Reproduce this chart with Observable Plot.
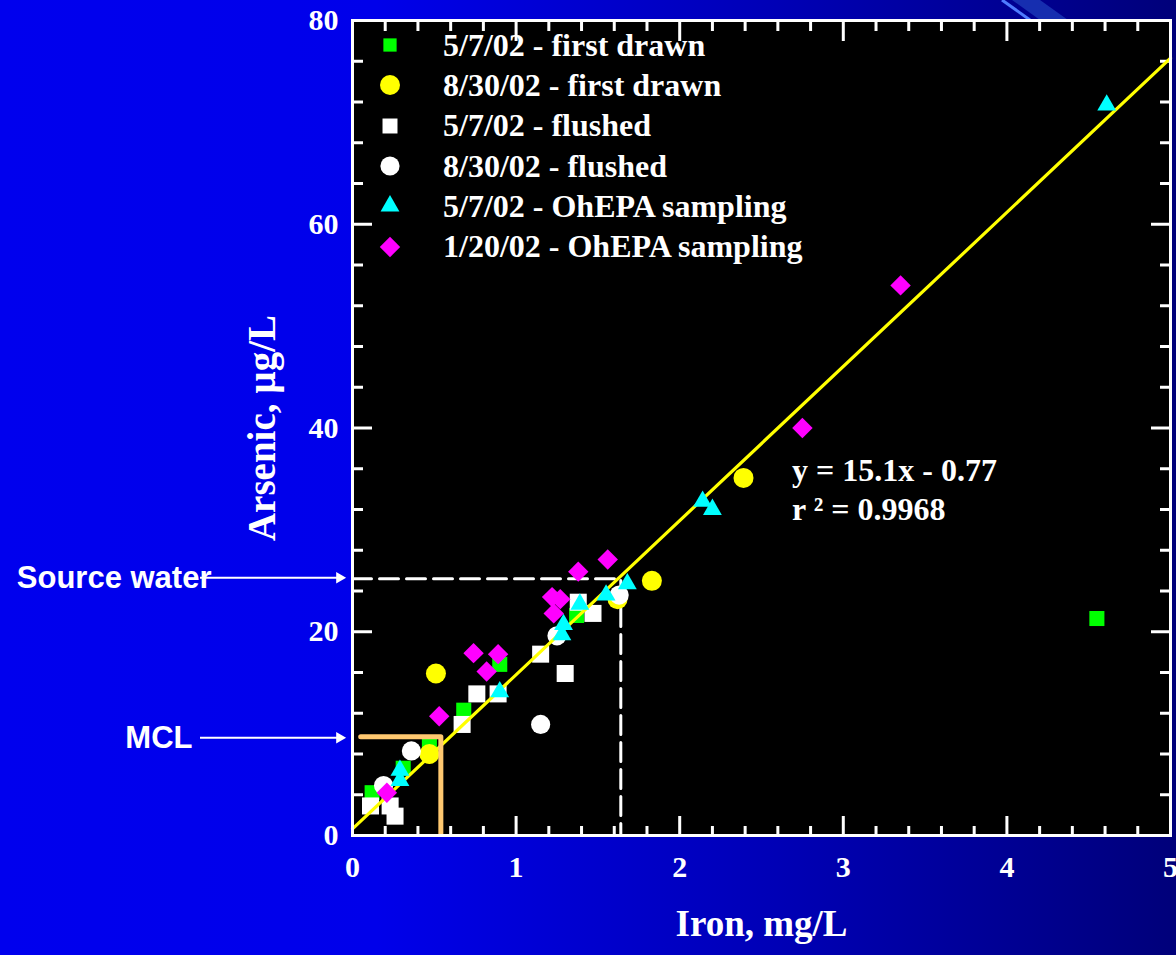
<!DOCTYPE html>
<html><head><meta charset="utf-8">
<script src="https://cdn.jsdelivr.net/npm/d3@7"></script>
<script src="https://cdn.jsdelivr.net/npm/@observablehq/plot@0.6"></script>
<style>
html,body{margin:0;padding:0;}
body{width:1176px;height:955px;overflow:hidden;position:relative;
  background:linear-gradient(to right,#0000ee 0%,#0000ea 32%,#0000b6 66%,#00007a 100%);
  font-family:"Liberation Serif","Times New Roman",serif;}
#deco{position:absolute;left:0;top:0;}
#chart{position:absolute;left:0;top:0;}
#legend{position:absolute;left:370px;top:25px;color:#fff;font-weight:bold;font-size:32px;}
#legend .row{display:flex;align-items:center;height:40.3px;white-space:nowrap;}
#legend svg{width:40px;height:30px;flex:none;}
#legend span{margin-left:33px;}
#eq{position:absolute;left:792px;top:451px;color:#fff;font-weight:bold;font-size:32px;line-height:39px;white-space:nowrap;}
</style></head><body>
<svg id="deco" width="1176" height="40">
  <polygon points="1012,0 1040,0 1068,20 1040,20" fill="#1c3ab8" opacity="0.8"></polygon>
  <line x1="1002" y1="0" x2="1030" y2="20" stroke="#4f7cff" stroke-width="3"></line>
</svg>
<div id="chart"></div>
<div id="legend"></div>
<div id="eq">y = 15.1x - 0.77<br>r ² = 0.9968</div>
<script>
// ---- data (iron mg/L, arsenic µg/L) ----
const firstDrawn_0507 = [[0.12,4.2],[0.31,6.6],[0.47,9.0],[0.68,12.3],[0.90,16.8],[1.37,21.6],[4.55,21.3]];
const firstDrawn_0830 = [[0.47,8.0],[0.51,15.9],[1.62,23.2],[1.83,25.0],[2.39,35.1]];
const flushed_0507 = [[0.11,2.9],[0.23,2.9],[0.26,1.9],[0.67,10.9],[0.76,13.9],[0.89,13.9],[1.15,17.8],[1.30,15.9],[1.38,22.9],[1.47,21.8]];
const flushed_0830 = [[0.19,4.9],[0.36,8.3],[1.15,10.9],[1.25,19.6],[1.63,23.6]];
const ohepa_0507 = [[0.29,5.4],[0.29,6.4],[0.90,14.1],[1.28,19.7],[1.29,20.7],[1.39,22.7],[1.55,23.6],[1.68,24.7],[2.14,32.8],[2.20,32.0],[4.61,71.7]];
const ohepa_0120 = [[0.21,4.2],[0.53,11.7],[0.74,17.9],[0.82,16.1],[0.89,17.8],[1.22,23.4],[1.23,21.8],[1.27,23.2],[1.38,25.9],[1.56,27.1],[2.75,40.0],[3.35,54.0]];

const seriesLabels = ["5/7/02 - first drawn","8/30/02 - first drawn","5/7/02 - flushed","8/30/02 - flushed","5/7/02 - OhEPA sampling","1/20/02 - OhEPA sampling"];
const fitLine = [[0,0.65],[5,76.3]];           // regression line as drawn
const sourceWaterGuide = [[0,25.2],[1.64,25.2],[1.64,0]];
const mclGuide = [[0.05,9.7],[0.54,9.7],[0.54,0.2]];
const annotations = [{label:"Source water", arsenic:25.3},{label:"MCL", arsenic:9.6}];

const xMajor = [0,1,2,3,4,5];
const xMinor = [0.2,0.4,0.6,0.8,1.2,1.4,1.6,1.8,2.2,2.4,2.6,2.8,3.2,3.4,3.6,3.8,4.2,4.4,4.6,4.8];
const yMajor = [0,20,40,60,80];
const yMinor = [4,8,12,16,24,28,32,36,44,48,52,56,64,68,72,76];

const series = [
  {data:firstDrawn_0507, symbol:"square", fill:"#00ff00", r:8.5},
  {data:firstDrawn_0830, symbol:"circle", fill:"#ffff00", r:10},
  {data:flushed_0507, symbol:"square", fill:"#ffffff", r:9.6},
  {data:flushed_0830, symbol:"circle", fill:"#ffffff", r:9.6},
  {data:ohepa_0507, symbol:"triangle", fill:"#00ffff", r:7},
  {data:ohepa_0120, symbol:"diamond2", fill:"#ff00ff", r:9.2}
];

const dotMark = s => Plot.dot(s.data, {x:d=>d[0], y:d=>d[1], symbol:()=>s.symbol, fill:s.fill, r:s.r, stroke:null});
const txt = {fill:"white", fontWeight:"bold"};

const chart = Plot.plot({
  width:1176, height:955,
  marginLeft:352, marginRight:6, marginTop:20, marginBottom:120,
  x:{domain:[0,5]}, y:{domain:[0,80]},
  symbol:{type:"identity"},
  style:{background:"transparent", color:"white", fontFamily:"Liberation Serif, Times New Roman, serif"},
  marks:[
    Plot.frame({fill:"black", stroke:null}),
    // tick labels
    Plot.axisX(xMajor, {anchor:"bottom", tickSize:0, tickPadding:20, fontSize:30, fontWeight:"bold", label:null, tickFormat:d=>String(d)}),
    Plot.axisY(yMajor, {anchor:"left", tickSize:0, tickPadding:14, fontSize:30, fontWeight:"bold", label:null, tickFormat:d=>String(d)}),
    // inward ticks
    Plot.axisX(xMajor, {anchor:"bottom", tickSize:-19, text:null, label:null, strokeWidth:3}),
    Plot.axisX(xMinor, {anchor:"bottom", tickSize:-9, text:null, label:null, strokeWidth:3}),
    Plot.axisX(xMajor, {anchor:"top", tickSize:-20, text:null, label:null, strokeWidth:3}),
    Plot.axisX(xMinor, {anchor:"top", tickSize:-10, text:null, label:null, strokeWidth:3}),
    Plot.axisY(yMajor, {anchor:"left", tickSize:-20, text:null, label:null, strokeWidth:3}),
    Plot.axisY(yMinor, {anchor:"left", tickSize:-11, text:null, label:null, strokeWidth:3}),
    Plot.axisY(yMajor, {anchor:"right", tickSize:-20, text:null, label:null, strokeWidth:3}),
    Plot.axisY(yMinor, {anchor:"right", tickSize:-11, text:null, label:null, strokeWidth:3}),
    // guides
    Plot.line(sourceWaterGuide, {x:d=>d[0], y:d=>d[1], stroke:"white", strokeWidth:3, strokeDasharray:"19,8"}),
    // points
    dotMark(series[0]), dotMark(series[1]), dotMark(series[2]), dotMark(series[3]),
    Plot.line(fitLine, {x:d=>d[0], y:d=>d[1], stroke:"#ffff00", strokeWidth:3.2}),
    dotMark(series[4]), dotMark(series[5]),
    Plot.line(mclGuide, {x:d=>d[0], y:d=>d[1], stroke:"#ffc870", strokeWidth:5}),
    Plot.frame({stroke:"white", strokeWidth:3}),
    // outside annotations
    Plot.ruleY(annotations, {y:"arsenic", insetLeft:-152, insetRight:833, stroke:"white", strokeWidth:2}),
    Plot.dot(annotations, {y:"arsenic", frameAnchor:"left", dx:-13, symbol:"triangle2", rotate:90, r:5.5, fill:"white", stroke:null}),
    Plot.text([annotations[0]], {y:"arsenic", text:"label", frameAnchor:"left", dx:-141, textAnchor:"end", fontFamily:"Liberation Sans, Arial, sans-serif", fontSize:31, ...txt}),
    Plot.text([annotations[1]], {y:"arsenic", text:"label", frameAnchor:"left", dx:-160, textAnchor:"end", fontFamily:"Liberation Sans, Arial, sans-serif", fontSize:31, ...txt}),
    // axis titles
    Plot.text(["Arsenic, µg/L"], {text:d=>d, frameAnchor:"left", dx:-90, rotate:-90, textAnchor:"middle", fontSize:39, ...txt}),
    Plot.text(["Iron, mg/L"], {text:d=>d, frameAnchor:"bottom", dy:100, textAnchor:"middle", fontSize:37, ...txt})
  ]
});
document.getElementById("chart").append(chart);

// legend
const legend = d3.select("#legend");
series.forEach((s,i) => {
  const row = legend.append("div").attr("class","row");
  const svg = row.append("svg").attr("viewBox","-20 -15 40 30");
  const type = {square:d3.symbolSquare, circle:d3.symbolCircle, triangle:d3.symbolTriangle, diamond2:d3.symbolDiamond2}[s.symbol];
  const lr = s.symbol === "square" ? s.r*0.88 : s.r;
  svg.append("path").attr("d", d3.symbol(type, Math.PI*lr*lr)()).attr("fill", s.fill);
  row.append("span").text(seriesLabels[i]);
});
</script>
</body></html>
